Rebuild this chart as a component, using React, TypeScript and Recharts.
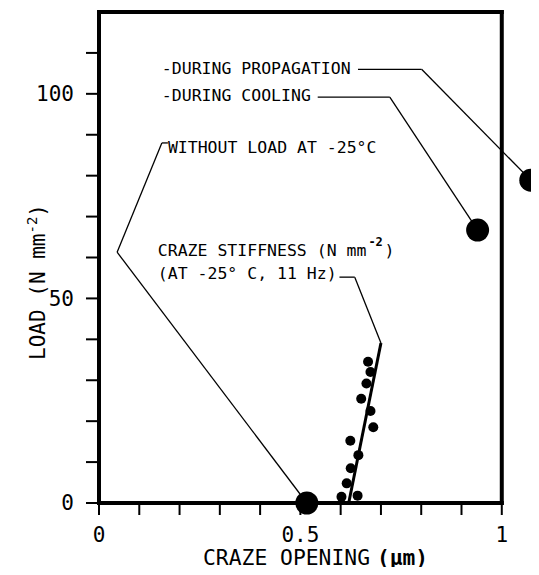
import React from 'react';
import { ComposedChart, Scatter, XAxis, YAxis, ReferenceLine, ReferenceDot } from 'recharts';

const FONT = '"DejaVu Sans Mono", monospace';
const INK = '#000';

// Axis ticks
const xTicks = [0, 0.1, 0.2, 0.3, 0.4, 0.5, 0.6, 0.7, 0.8, 0.9, 1];
const xTickLabels = ['0', '', '', '', '', '0.5', '', '', '', '', '1'];
const yTicks = [0, 10, 20, 30, 40, 50, 60, 70, 80, 90, 100, 110];
const yTickLabels = ['0', '', '', '', '', '50', '', '', '', '', '100', ''];
const xDomain = [0, 1.08];
const yDomain = [0, 120];
const frameX = [0, 1];
const frameY = [0, 120];

// Craze stiffness measurements (small dots)
const stiffX = [0.602, 0.642, 0.615, 0.625, 0.644, 0.624, 0.681, 0.674, 0.651, 0.664, 0.674, 0.668];
const stiffY = [1.5, 1.8, 4.8, 8.5, 11.7, 15.2, 18.5, 22.5, 25.5, 29.2, 32.0, 34.5];

// Fitted stiffness line
const fitX = [0.62, 0.70];
const fitY = [0, 39.1];

// Large dots: without load, during cooling, during propagation
const stateX = [0.516, 0.94, 1.072];
const stateY = [0, 66.7, 78.9];

// Annotation texts (anchor = left end, vertical centre)
const annKeys = ['prop', 'cool', 'without', 'stiff1', 'stiff2'];
const annX = [0.156, 0.156, 0.171, 0.146, 0.146];
const annY = [106.2, 99.7, 87.0, 61.8, 56.2];

// Leader polylines
const leaderXs = [
  [0.643, 0.801, 1.072],
  [0.543, 0.722, 0.94],
  [0.171, 0.156, 0.045, 0.516],
  [0.597, 0.635, 0.70],
];
const leaderYs = [
  [106.0, 106.0, 78.9],
  [99.2, 99.2, 66.7],
  [88.0, 88.0, 61.3, 0],
  [55.2, 55.2, 39.1],
];

const stiffData = stiffX.map((x, i) => ({ x, y: stiffY[i] }));
const fitData = fitX.map((x, i) => ({ x, y: fitY[i] }));
const stateData = stateX.map((x, i) => ({ x, y: stateY[i] }));

const leaderSegments: { x: number; y: number }[][] = [];
leaderXs.forEach((xs, li) => {
  for (let i = 0; i < xs.length - 1; i++) {
    leaderSegments.push([
      { x: xs[i], y: leaderYs[li][i] },
      { x: xs[i + 1], y: leaderYs[li][i + 1] },
    ]);
  }
});

const ANN_SIZE = 16.5;
const CHAR_W = ANN_SIZE * 0.602;
const annStrings: Record<string, string> = {
  prop: '-DURING PROPAGATION',
  cool: '-DURING COOLING',
  without: 'WITHOUT LOAD AT -25°C',
  stiff1: 'CRAZE STIFFNESS (N mm',
  stiff2: '(AT -25° C, 11 Hz)',
};

function renderAnn(key: string, cx: number, cy: number) {
  const str = annStrings[key];
  const main = (
    <text x={cx} y={cy} dy="0.36em" fontFamily={FONT} fontSize={ANN_SIZE} fill={INK}>
      {str}
    </text>
  );
  if (key === 'stiff1') {
    const ex = cx + str.length * CHAR_W;
    return (
      <g>
        {main}
        <text x={ex + 2} y={cy - 8} dy="0.36em" fontFamily={FONT} fontSize={12} fontWeight="bold" fill={INK}>
          -2
        </text>
        <text x={ex + 18} y={cy} dy="0.36em" fontFamily={FONT} fontSize={ANN_SIZE} fill={INK}>
          )
        </text>
      </g>
    );
  }
  return main;
}

const XLabel = (props: any) => {
  const vb = props.viewBox || { x: 99, y: 503 };
  const x0 = vb.x + 104;
  const y0 = vb.y + 62;
  return (
    <g>
      <text x={x0} y={y0} fontFamily={FONT} fontSize={22} fill={INK} textLength={167} lengthAdjust="spacingAndGlyphs">
        CRAZE OPENING
      </text>
      <text x={x0 + 174} y={y0} fontFamily={FONT} fontSize={22} fontWeight="bold" fill={INK} textLength={51} lengthAdjust="spacingAndGlyphs">
        (µm)
      </text>
    </g>
  );
};

const YLabel = (props: any) => {
  const vb = props.viewBox || { x: 0, y: 12, height: 491 };
  const cx = 45;
  const cy = vb.y + 270;
  return (
    <text
      x={cx}
      y={cy}
      transform={`rotate(-90 ${cx} ${cy})`}
      textAnchor="middle"
      fontFamily={FONT}
      fontSize={21}
      fill={INK}
    >
      LOAD (N mm<tspan dy={-8} fontSize={14}>-2</tspan><tspan dy={8}>)</tspan>
    </text>
  );
};

export default function App() {
  return (
    <div style={{ margin: -8, width: 539, height: 575, background: '#fff' }}>
      <ComposedChart width={539} height={575} margin={{ top: 12, right: 5, bottom: 32, left: 0 }}>
        <XAxis
          type="number"
          dataKey="x"
          domain={xDomain}
          ticks={xTicks}
          interval={0}
          axisLine={false}
          tickLine={{ stroke: INK, strokeWidth: 2 }}
          tickSize={12}
          tickMargin={12}
          tickFormatter={(v: number) => xTickLabels[xTicks.indexOf(v)] ?? ''}
          tick={{ fontFamily: FONT, fontSize: 21, fill: INK }}
          height={40}
          label={<XLabel />}
        />
        <YAxis
          type="number"
          dataKey="y"
          domain={yDomain}
          ticks={yTicks}
          interval={0}
          axisLine={{ stroke: INK, strokeWidth: 4 }}
          tickLine={{ stroke: INK, strokeWidth: 2 }}
          tickSize={13}
          tickMargin={12}
          tickFormatter={(v: number) => yTickLabels[yTicks.indexOf(v)] ?? ''}
          tick={{ fontFamily: FONT, fontSize: 21, fill: INK }}
          width={99}
          label={<YLabel />}
        />

        {/* frame */}
        <ReferenceLine segment={[{ x: frameX[0], y: frameY[0] }, { x: frameX[1], y: frameY[0] }]} stroke={INK} strokeWidth={4} strokeLinecap="square" ifOverflow="visible" />
        <ReferenceLine segment={[{ x: frameX[0], y: frameY[1] }, { x: frameX[1], y: frameY[1] }]} stroke={INK} strokeWidth={4} strokeLinecap="square" ifOverflow="visible" />
        <ReferenceLine segment={[{ x: frameX[1], y: frameY[0] }, { x: frameX[1], y: frameY[1] }]} stroke={INK} strokeWidth={4} strokeLinecap="square" ifOverflow="visible" />

        {/* leaders */}
        {leaderSegments.map((seg, i) => (
          <ReferenceLine key={`ld${i}`} segment={seg} stroke={INK} strokeWidth={1.3} ifOverflow="visible" />
        ))}

        {/* annotation texts */}
        {annKeys.map((k, i) => (
          <ReferenceDot
            key={k}
            x={annX[i]}
            y={annY[i]}
            r={1}
            ifOverflow="visible"
            shape={(p: any) => renderAnn(k, p.cx, p.cy)}
          />
        ))}

        <Scatter
          data={fitData}
          isAnimationActive={false}
          line={{ stroke: INK, strokeWidth: 3 }}
          shape={() => <g />}
        />
        <Scatter
          data={stiffData}
          isAnimationActive={false}
          shape={(p: any) => <circle cx={p.cx} cy={p.cy} r={5} fill={INK} />}
        />
        <Scatter
          data={stateData}
          isAnimationActive={false}
          shape={(p: any) => <circle cx={p.cx} cy={p.cy} r={11.5} fill={INK} />}
        />
      </ComposedChart>
    </div>
  );
}
